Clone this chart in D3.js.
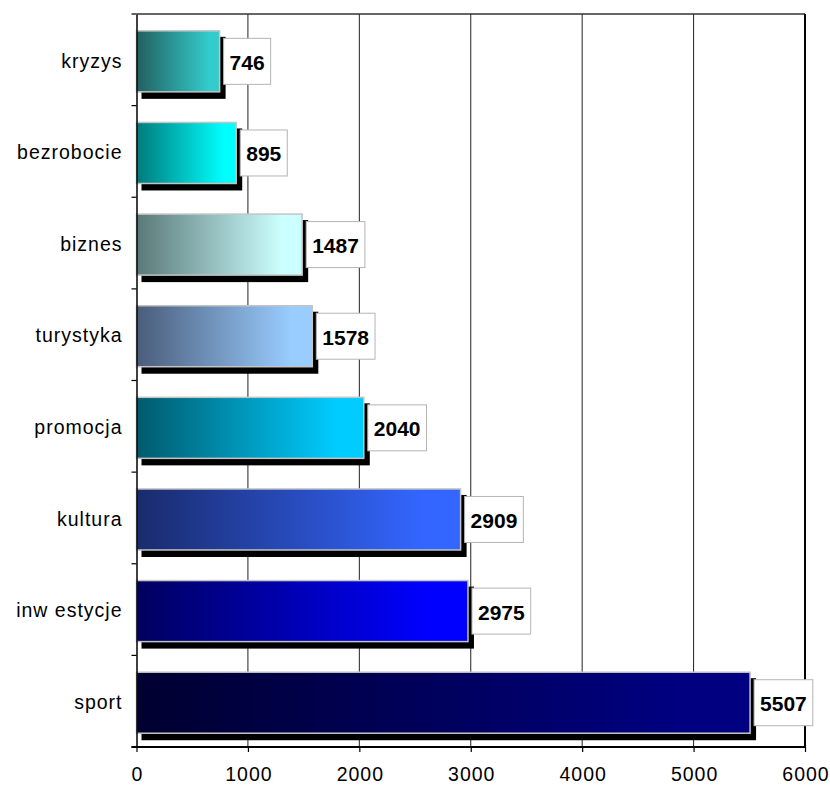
<!DOCTYPE html>
<html>
<head>
<meta charset="utf-8">
<script src="https://cdn.jsdelivr.net/npm/d3@7"></script>
<style>
  html, body { margin: 0; padding: 0; background: #fff; }
  svg { display: block; font-family: Arial, "Liberation Sans", sans-serif; }
</style>
</head>
<body>
<svg id="chart" width="830" height="787"></svg>
<script>
// Topics and their counts
const categories = ["kryzys", "bezrobocie", "biznes", "turystyka", "promocja", "kultura", "inw estycje", "sport"];
const values = [746, 895, 1487, 1578, 2040, 2909, 2975, 5507];
// Horizontal gradient per bar: dark start, light end
const darkColors  = ["#226060", "#007a7a", "#5a7878", "#4a5c7a", "#005a6c", "#1a2b6c", "#00005e", "#000030"];
const lightColors = ["#33cccc", "#00ffff", "#ccffff", "#99ccff", "#00ccff", "#3366ff", "#0000ff", "#000080"];
const xTicks = [0, 1000, 2000, 3000, 4000, 5000, 6000];

const svg = d3.select("#chart");
const margin = { left: 136.5, right: 25, top: 14, bottom: 40 };
const W = 830, H = 787;
const plotR = W - margin.right, plotB = H - margin.bottom;

const x = d3.scaleLinear().domain([0, 6000]).range([margin.left, plotR]);
const y = d3.scaleBand().domain(categories).range([margin.top, plotB])
  .paddingInner(0.334).paddingOuter(0.167).align(0.55);

// gradients
const defs = svg.append("defs");
categories.forEach((c, i) => {
  const g = defs.append("linearGradient").attr("id", "grad" + i)
    .attr("x1", "0%").attr("x2", "100%").attr("y1", "0%").attr("y2", "0%");
  g.append("stop").attr("offset", "0%").attr("stop-color", darkColors[i]);
  g.append("stop").attr("offset", "88%").attr("stop-color", lightColors[i]);
  g.append("stop").attr("offset", "100%").attr("stop-color", lightColors[i]);
});

// vertical gridlines
svg.append("g").selectAll("line").data(xTicks.slice(1, -1)).join("line")
  .attr("x1", d => x(d)).attr("x2", d => x(d))
  .attr("y1", margin.top).attr("y2", plotB)
  .attr("stroke", "#222").attr("stroke-width", 1);

// plot frame (top and right)
svg.append("line").attr("x1", x(0)).attr("x2", plotR).attr("y1", margin.top).attr("y2", margin.top)
  .attr("stroke", "#333").attr("stroke-width", 1.5);
svg.append("line").attr("x1", plotR).attr("x2", plotR).attr("y1", margin.top).attr("y2", plotB)
  .attr("stroke", "#000").attr("stroke-width", 2);

const data = categories.map((c, i) => ({ c, v: values[i], i }));
const barG = svg.append("g");

// shadows
barG.selectAll("rect.shadow").data(data).join("rect").attr("class", "shadow")
  .attr("x", x(0) + 5).attr("y", d => y(d.c) + 6)
  .attr("width", d => x(d.v) - x(0) + 1).attr("height", y.bandwidth() + 1)
  .attr("fill", "#000");

// bars
barG.selectAll("rect.bar").data(data).join("rect").attr("class", "bar")
  .attr("x", x(0)).attr("y", d => y(d.c))
  .attr("width", d => x(d.v) - x(0)).attr("height", y.bandwidth())
  .attr("fill", d => "url(#grad" + d.i + ")")
  .attr("stroke", "#c4c4c4").attr("stroke-width", 1.5);

// axes
const yAxis = d3.axisLeft(y).tickSize(0).tickPadding(14);
const yG = svg.append("g").attr("transform", `translate(${x(0)},0)`).call(yAxis);
yG.select(".domain").attr("stroke", "#000").attr("stroke-width", 1.5);
yG.selectAll("text").attr("font-size", 19.5).attr("fill", "#000")
  .attr("letter-spacing", "1px")
  .attr("font-family", "Arial, 'Liberation Sans', sans-serif");
// tick marks on category boundaries
const bounds = d3.range(categories.length + 1).map(k => margin.top + k * (plotB - margin.top) / categories.length);
svg.append("g").selectAll("line").data(bounds).join("line")
  .attr("x1", x(0) - 5).attr("x2", x(0))
  .attr("y1", d => d).attr("y2", d => d)
  .attr("stroke", "#000").attr("stroke-width", 1.2);

const xAxis = d3.axisBottom(x).tickValues(xTicks).tickSize(5).tickPadding(15).tickFormat(d3.format("d"));
const xG = svg.append("g").attr("transform", `translate(0,${plotB})`).call(xAxis);
xG.select(".domain").attr("stroke", "#000").attr("stroke-width", 2).attr("d", `M${x(0) - 5},0H${plotR}`);
xG.selectAll(".tick line").attr("stroke", "#000").attr("stroke-width", 1.2);
xG.selectAll("text").attr("font-size", 19.5).attr("fill", "#000")
  .attr("letter-spacing", "1px").attr("dx", "0.5px")
  .attr("font-family", "Arial, 'Liberation Sans', sans-serif");

// value labels in boxes
const lab = svg.append("g").selectAll("g").data(data).join("g");
lab.each(function(d) {
  const g = d3.select(this);
  const cy = y(d.c) + y.bandwidth() / 2;
  const t = g.append("text").text(d.v)
    .attr("font-size", 21).attr("font-weight", "bold").attr("fill", "#000")
    .attr("dominant-baseline", "central");
  const w = t.node().getComputedTextLength();
  const bx = x(d.v) + 4;
  g.insert("rect", "text")
    .attr("x", bx).attr("y", cy - 23).attr("width", w + 12).attr("height", 46)
    .attr("fill", "#fff").attr("stroke", "#b4b4b4").attr("stroke-width", 1);
  t.attr("x", bx + 6).attr("y", cy + 1);
});
</script>
</body>
</html>
